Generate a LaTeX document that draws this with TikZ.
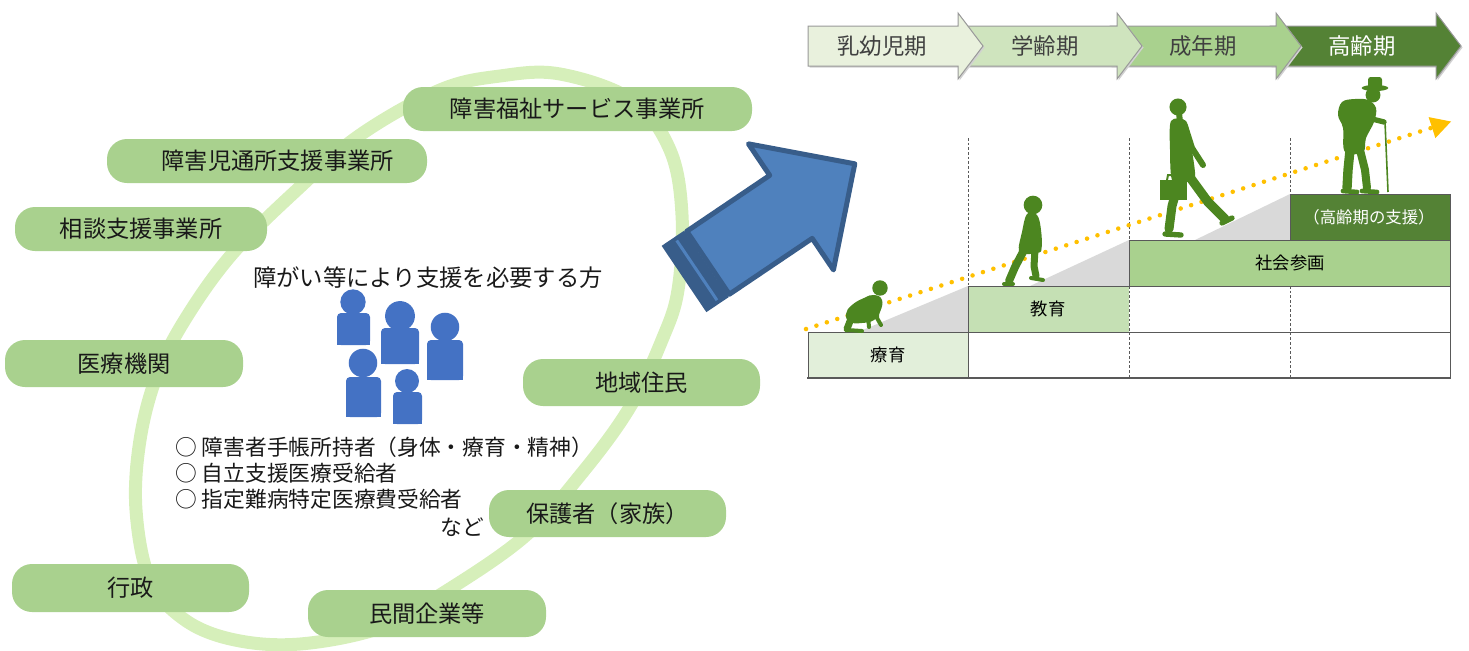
\documentclass[tikz,border=0pt]{standalone}
\usepackage{fontspec}
\setmainfont{Noto Sans CJK JP}
\usetikzlibrary{calc}

\definecolor{ringgreen}{RGB}{214,239,186}
\definecolor{pillgreen}{RGB}{169,209,142}
\definecolor{peopleblue}{RGB}{68,114,196}
\definecolor{arrowfill}{RGB}{79,129,189}
\definecolor{arrowline}{RGB}{56,93,138}
\definecolor{stageA}{RGB}{233,241,221}
\definecolor{stageB}{RGB}{207,228,190}
\definecolor{stageC}{RGB}{169,209,142}
\definecolor{stageD}{RGB}{84,130,53}
\definecolor{cellA}{RGB}{226,239,218}
\definecolor{cellB}{RGB}{197,224,180}
\definecolor{slopegrey}{RGB}{217,217,217}
\definecolor{walker}{RGB}{76,134,32}
\definecolor{lifeline}{RGB}{255,192,0}
\definecolor{gridgrey}{RGB}{89,89,89}
\definecolor{stagetext}{RGB}{64,64,64}

\begin{document}
\begin{tikzpicture}[x=0.75pt,y=-0.75pt,
  pillbox/.style={fill=pillgreen, rounded corners=15pt, inner sep=0pt,
    font=\fontsize{17.4}{20}\selectfont, text=black!90},
  bigtext/.style={font=\fontsize{17.5}{20}\selectfont, text=black!90, inner sep=0pt},
  listtext/.style={font=\fontsize{16.3}{19}\selectfont, text=black!90, inner sep=0pt, anchor=west},
  celltext/.style={font=\fontsize{13}{15}\selectfont, text=black, inner sep=0pt},
  stagetxt/.style={font=\fontsize{16.8}{19}\selectfont, text=stagetext, inner sep=0pt},
  gridline/.style={draw=gridgrey, line width=0.75pt},
  gridfine/.style={draw=gridgrey, line width=0.6pt, dash pattern=on 2pt off 1.5pt},
  limb/.style={draw=walker, line cap=round, line join=round},
]
\useasboundingbox (0,0) rectangle (1469,650);

% ---------- ring around the support network ----------
\draw[ringgreen, line width=9.75pt]
  plot[smooth cycle, tension=0.6] coordinates {
    (560,74) (632,100) (670,150) (682,215) (678,290) (662,340) (630,407)
    (582,473) (524,537) (440,595) (380,628) (300,644) (235,640) (185,620)
    (150,580) (136,510) (140,440) (157,375) (186,318) (233,253) (300,187)
    (360,135) (440,90) (500,76)};

% ---------- support providers ----------
\node[pillbox, minimum width=349*0.75pt, minimum height=44*0.75pt] (fukushi) at (577.5,109) {障害福祉サービス事業所};
\node[pillbox, minimum width=320*0.75pt, minimum height=44*0.75pt] (jido) at (267,161) {\hspace*{16pt}障害児通所支援事業所};
\node[pillbox, minimum width=252*0.75pt, minimum height=44*0.75pt] (sodan) at (141,229) {相談支援事業所};
\node[pillbox, minimum width=238*0.75pt, minimum height=47*0.75pt] (iryo) at (124,363.5) {医療機関};
\node[pillbox, minimum width=237*0.75pt, minimum height=47*0.75pt] (chiiki) at (641.5,382.5) {地域住民};
\node[pillbox, minimum width=237*0.75pt, minimum height=47*0.75pt] (hogo) at (607.5,513.5) {保護者（家族）};
\node[pillbox, minimum width=237*0.75pt, minimum height=48*0.75pt] (gyosei) at (130.5,588) {行政};
\node[pillbox, minimum width=238*0.75pt, minimum height=47*0.75pt] (minkan) at (427,613.5) {民間企業等};

% ---------- people in need of support ----------
\node[bigtext] (target) at (428,278) {障がい等により支援を必要する方};
\foreach \hx/\hy/\hr/\xa/\ya/\xb/\yb in {
    353/302/9.5/337/313/370/345,
    400/316/11.2/381/328/419/364,
    445/327/10.7/427/340/463/380,
    363/363/10.7/346/377/381/417,
    407/381/9.0/393/392/422/424}{
  \fill[peopleblue, rounded corners=3pt] (\xa,\ya) rectangle (\xb,\yb);
  \fill[peopleblue] (\xa,{(\ya+\yb)/2}) rectangle (\xb,\yb);
  \fill[peopleblue] (\hx,\hy) circle[radius=\hr pt];
}
\node[listtext] (listA) at (175,447) {○ 障害者手帳所持者（身体・療育・精神）};
\node[listtext] (listB) at (175,473) {○ 自立支援医療受給者};
\node[listtext] (listC) at (175,499) {○ 指定難病特定医療費受給者};
\node[listtext] (listD) at (440,527) {など};

% ---------- striped block arrow ----------
\begin{scope}[shift={(684,279)}, rotate=34]
  \fill[arrowline] (0,-40) -- (27,-40) -- (27,40) -- (0,40) -- cycle;
  \fill[arrowfill] (14,-36) -- (17,-36) -- (17,36) -- (14,36) -- cycle;
  \filldraw[fill=arrowfill, draw=arrowline, line width=3.75pt, line join=round]
    (29,-38) -- (129,-38) -- (129,-76) -- (206,0) -- (129,76) -- (129,38) -- (29,38) -- cycle;
\end{scope}

% ---------- life stages ----------
\foreach \L/\B/\col in {1270/1436/stageD, 1110/1276/stageC, 958/1117/stageB, 808/958/stageA}{
  \fill[black!18] ($(\L,26)+(1.5,1.5)$) -- ($(\B,26)+(1.5,1.5)$) -- ($(\B,13)+(1.5,1.5)$)
    -- ($({\B+25},46)+(1.5,1.5)$) -- ($(\B,79)+(1.5,1.5)$) -- ($(\B,66)+(1.5,1.5)$)
    -- ($(\L,66)+(1.5,1.5)$) -- cycle;
  \filldraw[fill=\col, draw=black!40, line width=0.75pt]
    (\L,26) -- (\B,26) -- (\B,13) -- ({\B+25},46) -- (\B,79) -- (\B,66) -- (\L,66) -- cycle;
}
\node[stagetxt] (infant) at (882,46) {乳幼児期};
\node[stagetxt] (school) at (1045,46) {学齢期};
\node[stagetxt] (adult) at (1203,46) {成年期};
\node[stagetxt, text=white] (senior) at (1362,46) {高齢期};

% ---------- staircase ----------
\fill[slopegrey] (858,332) -- (968,286) -- (968,332) -- cycle;
\fill[slopegrey] (1030,286) -- (1129,240) -- (1129,286) -- cycle;
\fill[slopegrey] (1195,240) -- (1290,194) -- (1290,240) -- cycle;

\fill[cellA] (808,332) rectangle (968,378);
\fill[cellB] (968,286) rectangle (1129,332);
\fill[pillgreen] (1129,240) rectangle (1450,286);
\fill[stageD] (1290,194) rectangle (1450,240);

\draw[gridline] (808,332) -- (1450,332);
\draw[gridline] (968,286) -- (1450,286);
\draw[gridline] (1129,240) -- (1450,240);
\draw[gridline] (1290,194) -- (1450,194);
\draw[gridline] (808,332) -- (808,378);
\draw[gridline] (968,286) -- (968,378);
\draw[gridline] (1129,240) -- (1129,286);
\draw[gridline] (1290,194) -- (1290,240);
\draw[gridline] (1450,194) -- (1450,378);
\draw[draw=gridgrey, line width=1.3pt] (807,378) -- (1451,378);
\draw[gridfine] (968,138) -- (968,286);
\draw[gridfine] (1129,138) -- (1129,240);
\draw[gridfine] (1129,286) -- (1129,378);
\draw[gridfine] (1290,138) -- (1290,194);
\draw[gridfine] (1290,286) -- (1290,378);

\node[celltext] (ryoiku) at (888,355) {療育};
\node[celltext] (kyoiku) at (1048,309) {教育};
\node[celltext] (shakai) at (1290,263) {社会参画};
\node[celltext, font=\fontsize{12.3}{14}\selectfont, text=white] (koreishien) at (1369,217) {（高齢期の支援）};

% ---------- dotted life line ----------
\coordinate (lifeStart) at (806,329);
\coordinate (lifeEnd) at (1431,128);
\draw[lifeline, line width=3.4pt, line cap=round, dash pattern=on 0pt off 8.2pt] (lifeStart) -- (lifeEnd);
\fill[lifeline] (1451,121.5) -- (1435.4,138.1) -- (1428.6,117.1) -- cycle;

% ---------- walkers ----------
% crawling infant
\fill[walker] (880,288) circle[radius=5.8pt];
\fill[walker] plot[smooth cycle, tension=0.8] coordinates {
  (874,295) (882,300) (880,312) (874,320) (862,323) (850,322) (846,314) (852,305) (864,298)};
\draw[limb, line width=3pt] (877,306) -- (877,318) -- (881,325);
\draw[limb, line width=3pt] (868,316) -- (869,327);
\draw[limb, line width=5.25pt] (852,316) -- (847,329);
\draw[limb, line width=3pt] (847,330) -- (862,331);
% child
\fill[walker] (1033,205) circle[radius=7pt];
\fill[walker] plot[smooth cycle, tension=0.6] coordinates {
  (1027,214) (1037,215) (1041,230) (1041,250) (1030,254) (1019,251) (1022,232)};
\draw[limb, line width=3.75pt] (1032,218) -- (1036,236) -- (1039,250);
\draw[limb, line width=6pt] (1024,250) -- (1015,267) -- (1009,281);
\draw[limb, line width=3pt] (1004,284) -- (1013,284);
\draw[limb, line width=5.25pt] (1035,250) -- (1034,266) -- (1036,276);
\draw[limb, line width=3pt] (1031,278) -- (1043,280);
% businessman
\fill[walker] (1178,107) circle[radius=6.4pt];
\draw[limb, line width=4.5pt] (1179,113) -- (1180,122);
\fill[walker] plot[smooth cycle, tension=0.5] coordinates {
  (1171,121) (1186,121) (1191,145) (1195,178) (1184,182) (1172,180) (1170,150)};
\draw[limb, line width=4.5pt] (1185,126) -- (1192,148) -- (1203,165);
\fill[walker] (1160,180) rectangle (1187,200);
\draw[walker, line width=1.5pt] (1167,180) -- (1168,175) -- (1178,175) -- (1179,180);
\draw[limb, line width=7pt] (1189,176) -- (1208,202) -- (1225,219);
\draw[limb, line width=4pt] (1222,223) -- (1232,218);
\draw[limb, line width=6.75pt] (1180,178) -- (1172,206) -- (1169,229);
\draw[limb, line width=4pt] (1165,234) -- (1181,235);
% elderly man with cane
\fill[walker, rounded corners=2pt] (1368,77) rectangle (1382,88);
\fill[walker] (1375,88) ellipse[x radius=10pt, y radius=2.3pt];
\fill[walker] (1373,95) circle[radius=5.6pt];
\fill[walker] plot[smooth cycle, tension=0.6] coordinates {
  (1368,100) (1376,108) (1374,122) (1366,138) (1363,152) (1345,152) (1343,128)
  (1338,115) (1342,102) (1355,99)};
\draw[limb, line width=4pt] (1358,106) -- (1368,118) -- (1384,122);
\draw[walker, line width=1.2pt] (1385,122) -- (1388,192);
\draw[limb, line width=7pt] (1350,150) -- (1348,170) -- (1347,188);
\draw[limb, line width=6pt] (1360,150) -- (1365,170) -- (1367,188);
\draw[limb, line width=3.5pt] (1343,191) -- (1357,192);
\draw[limb, line width=3.5pt] (1362,191) -- (1377,192);

\end{tikzpicture}
\end{document}
